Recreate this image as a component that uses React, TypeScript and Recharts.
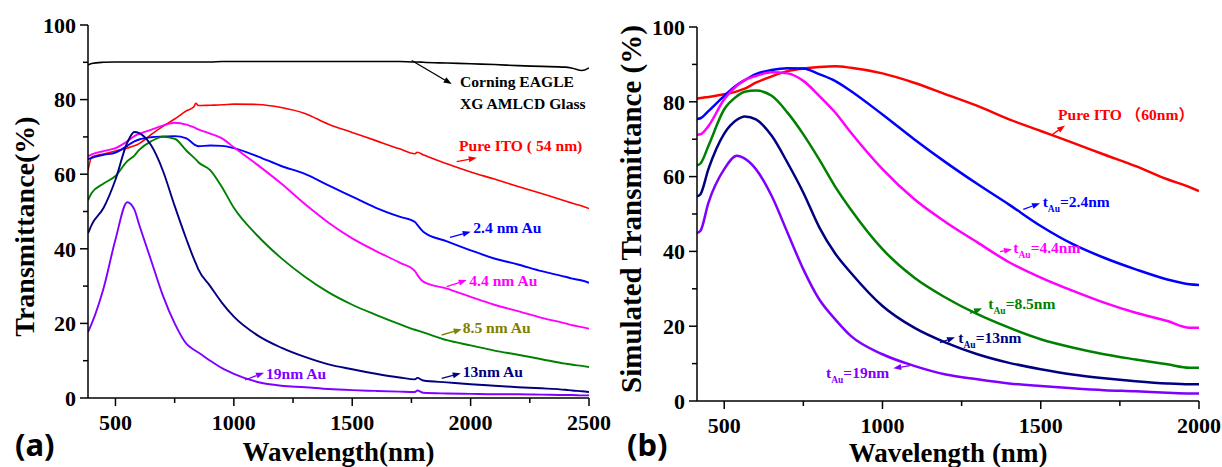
import React from 'react';
import { LineChart, Line, XAxis, YAxis } from 'recharts';

// ---------- Panel (a): measured transmittance ----------
const wavelengthA = [384, 400, 450, 500, 550, 580, 600, 650, 700, 750, 800, 830, 840, 850, 900, 950, 1000, 1100, 1200, 1300, 1400, 1500, 1600, 1700, 1765, 1775, 1800, 1900, 2000, 2100, 2200, 2300, 2400, 2430, 2470, 2500];
const glassA = [89.3, 89.7, 90.0, 90.1, 90.1, 90.1, 90.1, 90.1, 90.1, 90.1, 90.1, 90.1, 90.1, 90.1, 90.1, 90.2, 90.2, 90.2, 90.2, 90.2, 90.2, 90.2, 90.2, 90.2, 90.1, 90.1, 90.0, 89.8, 89.6, 89.4, 89.1, 88.9, 88.7, 88.4, 87.8, 88.5];
const ito54A = [61.0, 64.6, 65.4, 66.2, 67.0, 67.6, 68.2, 70.6, 72.8, 74.8, 77.0, 78.0, 79.0, 78.4, 78.5, 78.6, 78.8, 78.7, 77.9, 76.3, 73.4, 71.2, 69.0, 66.8, 65.5, 65.9, 65.2, 62.8, 60.6, 58.7, 56.7, 54.8, 52.8, 52.2, 51.5, 50.8];
const au24A = [64.0, 64.4, 65.2, 65.8, 67.6, 68.8, 69.3, 69.9, 70.1, 70.2, 69.6, 68.1, 67.7, 67.5, 67.7, 67.6, 67.0, 64.8, 62.2, 60.1, 57.0, 54.0, 51.0, 48.6, 47.2, 46.4, 44.6, 42.0, 39.6, 37.4, 35.8, 34.0, 32.5, 32.0, 31.5, 30.9];
const au44A = [64.8, 65.3, 66.2, 67.0, 68.8, 70.2, 70.8, 71.9, 73.0, 73.8, 73.3, 72.6, 72.3, 72.0, 70.9, 69.6, 67.2, 62.5, 57.5, 52.0, 47.0, 42.8, 39.4, 36.3, 34.0, 33.0, 31.2, 29.3, 27.1, 25.0, 23.3, 21.5, 20.0, 19.5, 19.0, 18.6];
const au85A = [53.0, 55.0, 57.5, 59.5, 63.5, 65.0, 66.5, 68.8, 70.0, 69.5, 66.3, 64.5, 63.9, 63.2, 61.1, 56.5, 51.0, 43.5, 37.5, 32.5, 28.3, 25.0, 22.3, 19.8, 18.3, 18.1, 17.6, 15.5, 14.1, 12.7, 11.6, 10.4, 9.2, 8.9, 8.6, 8.3];
const au13A = [44.1, 46.5, 51.0, 58.5, 68.5, 71.3, 71.0, 67.8, 61.0, 51.5, 42.5, 37.5, 36.0, 34.5, 30.0, 25.5, 21.8, 16.8, 13.5, 11.0, 9.0, 7.7, 6.5, 5.5, 5.0, 5.4, 4.7, 4.2, 3.7, 3.3, 2.9, 2.6, 2.2, 2.0, 1.8, 1.6];
const au19A = [17.7, 20.0, 29.5, 42.5, 52.5, 50.5, 46.5, 37.0, 27.5, 20.0, 14.5, 13.0, 12.6, 12.2, 10.0, 8.0, 6.5, 4.3, 3.3, 2.9, 2.4, 2.1, 1.9, 1.7, 1.6, 2.0, 1.4, 1.2, 1.1, 1.0, 1.0, 0.9, 0.8, 0.8, 0.7, 0.7];

// ---------- Panel (b): simulated transmittance ----------
const wavelengthB = [414, 425, 450, 500, 540, 565, 600, 650, 700, 750, 800, 850, 900, 1000, 1100, 1200, 1300, 1400, 1500, 1600, 1700, 1800, 1900, 1970, 2000];
const ito60B = [80.8, 81.0, 81.3, 82.0, 82.8, 83.5, 85.1, 86.8, 88.2, 88.9, 89.3, 89.5, 89.1, 87.6, 85.1, 82.0, 78.9, 75.3, 72.2, 69.1, 65.9, 62.8, 59.3, 57.2, 56.1];
const au24B = [75.4, 75.6, 77.5, 81.6, 84.5, 85.8, 87.4, 88.5, 89.0, 88.9, 87.4, 85.6, 82.9, 76.6, 70.0, 63.8, 58.0, 52.5, 46.8, 42.0, 38.3, 35.2, 32.5, 31.2, 31.0];
const au44B = [71.2, 71.3, 73.5, 80.7, 84.3, 85.8, 86.9, 87.9, 87.6, 85.6, 81.6, 77.2, 71.8, 62.0, 54.0, 47.8, 42.4, 37.1, 33.0, 29.5, 26.3, 23.6, 21.4, 19.6, 19.6];
const au85B = [63.0, 63.5, 68.2, 78.0, 81.5, 82.7, 83.0, 81.6, 77.1, 71.3, 64.6, 57.4, 51.2, 40.6, 33.0, 27.6, 23.2, 19.6, 16.5, 14.3, 12.5, 11.1, 9.8, 8.9, 8.9];
const au13B = [54.7, 55.3, 62.0, 71.5, 75.2, 76.1, 75.3, 70.9, 63.7, 55.7, 46.5, 39.5, 34.3, 25.4, 19.6, 15.6, 12.5, 10.2, 8.5, 7.1, 6.1, 5.3, 4.7, 4.5, 4.5];
const au19B = [44.9, 45.5, 53.0, 62.0, 65.6, 64.8, 62.0, 54.8, 45.0, 35.2, 27.2, 21.9, 17.4, 12.5, 9.4, 7.1, 5.8, 4.7, 4.0, 3.4, 2.9, 2.6, 2.2, 2.0, 2.0];

// ---------- Ticks ----------
const xMajorA = [500, 1000, 1500, 2000, 2500];
const xMinorA = [750, 1250, 1750, 2250];
const xMajorB = [500, 1000, 1500, 2000];
const xMinorB = [750, 1250, 1750];
const yMajor = [0, 20, 40, 60, 80, 100];
const yMinor = [10, 30, 50, 70, 90];

const dataA = wavelengthA.map((w, i) => ({
  w, glass: glassA[i], ito: ito54A[i], a24: au24A[i], a44: au44A[i], a85: au85A[i], a13: au13A[i], a19: au19A[i],
}));
const dataB = wavelengthB.map((w, i) => ({
  w, ito: ito60B[i], a24: au24B[i], a44: au44B[i], a85: au85B[i], a13: au13B[i], a19: au19B[i],
}));

const SERIF = '"Liberation Serif", "DejaVu Serif", "Times New Roman", serif';
const SANS = '"Noto Sans", "DejaVu Sans", sans-serif';
const CJK = '"Noto Sans CJK SC", sans-serif';
const TICK = 8;
const MINOR = 5;
const YGAP = 4;
const XGAP = 8;
const TICK_FONT = 22;

const C = {
  red: '#FF0000', blue: '#0000FF', magenta: '#FF00FF', green: '#008000', navy: '#000080', violet: '#8000FF', olive: '#808000',
};

const serifStyle = (size: number, color = '#000') => ({ fontFamily: SERIF, fontWeight: 700, fontSize: size, fill: color });

const makeYTick = (majors: number[]) => (props: any) => {
  const { x, y, payload } = props;
  const major = majors.includes(payload.value);
  const ax = x + TICK + YGAP;
  return (
    <g>
      <line x1={ax - (major ? TICK : MINOR)} x2={ax} y1={y} y2={y} stroke="#000" strokeWidth={1.5} />
      {major && (
        <text x={x} y={y} dy="0.35em" textAnchor="end" style={serifStyle(TICK_FONT)}>
          {payload.value}
        </text>
      )}
    </g>
  );
};

const makeXTick = (majors: number[]) => (props: any) => {
  const { x, y, payload } = props;
  const major = majors.includes(payload.value);
  const ay = y - TICK - XGAP;
  return (
    <g>
      <line x1={x} x2={x} y1={ay} y2={ay + (major ? TICK : MINOR)} stroke="#000" strokeWidth={1.5} />
      {major && (
        <text x={x} y={y} dy="0.71em" textAnchor="middle" style={serifStyle(TICK_FONT)}>
          {payload.value}
        </text>
      )}
    </g>
  );
};

function Arrow({ x1, y1, x2, y2, color }: { x1: number; y1: number; x2: number; y2: number; color: string }) {
  const dx = x2 - x1;
  const dy = y2 - y1;
  const L = Math.hypot(dx, dy);
  const ux = dx / L;
  const uy = dy / L;
  const hl = 8;
  const hw = 3;
  const bx = x2 - ux * hl;
  const by = y2 - uy * hl;
  const pts = `${x2},${y2} ${bx - uy * hw},${by + ux * hw} ${bx + uy * hw},${by - ux * hw}`;
  return (
    <g>
      <line x1={x1} y1={y1} x2={bx} y2={by} stroke={color} strokeWidth={1.3} />
      <polygon points={pts} fill={color} />
    </g>
  );
}

function TAu({ x, y, color, value }: { x: number; y: number; color: string; value: string }) {
  return (
    <text x={x} y={y} style={serifStyle(15.5, color)}>
      t
      <tspan style={{ fontSize: 9.5 }} dy={5}>Au</tspan>
      <tspan dy={-5}>{value}</tspan>
    </text>
  );
}

export default function App() {
  const axisStyle = { stroke: '#000', strokeWidth: 1.5 };
  const borderStyle = { stroke: '#222', strokeWidth: 1.5 };
  const lbl = (color: string) => serifStyle(15.6, color);
  return (
    <div style={{ position: 'absolute', left: 0, top: 0, width: 1222, height: 467, background: '#fff', overflow: 'hidden', fontFamily: SERIF }}>
      <div style={{ position: 'absolute', left: 0, top: 0 }}>
        <LineChart width={620} height={467} data={dataA} margin={{ top: 25, right: 31, bottom: 29, left: 0 }}>
          <XAxis dataKey="w" type="number" domain={[384, 2500]} allowDataOverflow ticks={[...xMajorA, ...xMinorA].sort((a, b) => a - b)} interval={0}
            height={40} tickSize={TICK} tickMargin={XGAP} tickLine={false} axisLine={axisStyle} tick={makeXTick(xMajorA)} />
          <XAxis xAxisId="top" orientation="top" dataKey="w" type="number" domain={[384, 2500]} height={0} tick={false} tickLine={false} axisLine={borderStyle} />
          <YAxis type="number" domain={[0, 100]} allowDataOverflow ticks={[...yMajor, ...yMinor].sort((a, b) => a - b)} interval={0}
            width={88} tickSize={TICK} tickMargin={YGAP} tickLine={false} axisLine={axisStyle} tick={makeYTick(yMajor)} />
          <YAxis yAxisId="right" orientation="right" type="number" domain={[0, 100]} width={0} tick={false} tickLine={false} axisLine={borderStyle} />
          <Line dataKey="glass" stroke="#000" strokeWidth={1.6} dot={false} type="monotone" isAnimationActive={false} />
          <Line dataKey="ito" stroke={C.red} strokeWidth={1.6} dot={false} type="monotone" isAnimationActive={false} />
          <Line dataKey="a24" stroke={C.blue} strokeWidth={1.9} dot={false} type="monotone" isAnimationActive={false} />
          <Line dataKey="a44" stroke={C.magenta} strokeWidth={1.9} dot={false} type="monotone" isAnimationActive={false} />
          <Line dataKey="a85" stroke={C.green} strokeWidth={1.9} dot={false} type="monotone" isAnimationActive={false} />
          <Line dataKey="a13" stroke={C.navy} strokeWidth={1.9} dot={false} type="monotone" isAnimationActive={false} />
          <Line dataKey="a19" stroke={C.violet} strokeWidth={1.9} dot={false} type="monotone" isAnimationActive={false} />
        </LineChart>
      </div>
      <div style={{ position: 'absolute', left: 600, top: 0 }}>
        <LineChart width={622} height={467} data={dataB} margin={{ top: 27, right: 23, bottom: 26, left: 0 }}>
          <XAxis dataKey="w" type="number" domain={[414, 2000]} allowDataOverflow ticks={[...xMajorB, ...xMinorB].sort((a, b) => a - b)} interval={0}
            height={40} tickSize={TICK} tickMargin={XGAP} tickLine={false} axisLine={axisStyle} tick={makeXTick(xMajorB)} />
          <XAxis xAxisId="top" orientation="top" dataKey="w" type="number" domain={[414, 2000]} height={0} tick={false} tickLine={false} axisLine={borderStyle} />
          <YAxis type="number" domain={[0, 100]} allowDataOverflow ticks={[...yMajor, ...yMinor].sort((a, b) => a - b)} interval={0}
            width={97} tickSize={TICK} tickMargin={YGAP} tickLine={false} axisLine={axisStyle} tick={makeYTick(yMajor)} />
          <YAxis yAxisId="right" orientation="right" type="number" domain={[0, 100]} width={0} tick={false} tickLine={false} axisLine={borderStyle} />
          <Line dataKey="ito" stroke={C.red} strokeWidth={2.5} dot={false} type="monotone" isAnimationActive={false} />
          <Line dataKey="a24" stroke={C.blue} strokeWidth={2.5} dot={false} type="monotone" isAnimationActive={false} />
          <Line dataKey="a44" stroke={C.magenta} strokeWidth={2.5} dot={false} type="monotone" isAnimationActive={false} />
          <Line dataKey="a85" stroke={C.green} strokeWidth={2.5} dot={false} type="monotone" isAnimationActive={false} />
          <Line dataKey="a13" stroke={C.navy} strokeWidth={2.5} dot={false} type="monotone" isAnimationActive={false} />
          <Line dataKey="a19" stroke={C.violet} strokeWidth={2.5} dot={false} type="monotone" isAnimationActive={false} />
        </LineChart>
      </div>
      <svg width={1222} height={467} style={{ position: 'absolute', left: 0, top: 0, pointerEvents: 'none' }}>
        {/* Panel (a) titles */}
        <text x={34} y={226.5} transform="rotate(-90, 34, 226.5)" textAnchor="middle" style={serifStyle(28)}>Transmittance(%)</text>
        <text x={338.5} y={461} textAnchor="middle" style={serifStyle(27)}>Wavelength(nm)</text>
        <text x={15} y={456} style={{ fontFamily: SANS, fontWeight: 700, fontSize: 31, fill: '#000' }}>(a)</text>
        {/* Panel (a) annotations */}
        <Arrow x1={411.7} y1={60.5} x2={451.7} y2={84} color="#000" />
        <text x={460} y={87} style={lbl('#000')}>Corning EAGLE</text>
        <text x={460} y={109} style={lbl('#000')}>XG AMLCD Glass</text>
        <Arrow x1={456.7} y1={161.7} x2={476.7} y2={157.7} color={C.red} />
        <text x={459} y={150.7} style={lbl(C.red)}>Pure ITO ( 54 nm)</text>
        <Arrow x1={450} y1={237.3} x2={470.7} y2={231.7} color={C.blue} />
        <text x={473.3} y={232.7} style={lbl(C.blue)}>2.4 nm Au</text>
        <Arrow x1={446.7} y1={286.7} x2={466.7} y2={280} color={C.magenta} />
        <text x={469.3} y={286} style={lbl(C.magenta)}>4.4 nm Au</text>
        <Arrow x1={441.7} y1={335} x2={461.7} y2={329.3} color={C.olive} />
        <text x={462.7} y={332.7} style={lbl(C.olive)}>8.5 nm Au</text>
        <Arrow x1={441.7} y1={378.3} x2={460.7} y2={373.3} color={C.navy} />
        <text x={462.7} y={376.7} style={lbl(C.navy)}>13nm Au</text>
        <Arrow x1={245} y1={380} x2={264} y2={372.7} color={C.violet} />
        <text x={266} y={379.3} style={lbl(C.violet)}>19nm Au</text>

        {/* Panel (b) titles */}
        <text x={641} y={209} transform="rotate(-90, 641, 209)" textAnchor="middle" style={serifStyle(29)}>Simulated Transmittance (%)</text>
        <text x={948} y={461.5} textAnchor="middle" style={serifStyle(27)}>Wavelength (nm)</text>
        <text x={627} y={456} style={{ fontFamily: SANS, fontWeight: 700, fontSize: 31, fill: '#000' }}>(b)</text>
        {/* Panel (b) annotations */}
        <Arrow x1={1051.7} y1={135} x2={1065} y2={125.5} color={C.red} />
        <text x={1058} y={120} style={lbl(C.red)}>Pure ITO<tspan style={{ fontFamily: CJK }}> （</tspan>60nm<tspan style={{ fontFamily: CJK }}>）</tspan></text>
        <Arrow x1={1023.3} y1={209.3} x2={1040} y2={203.3} color={C.blue} />
        <TAu x={1042.7} y={206.7} color={C.blue} value="=2.4nm" />
        <Arrow x1={1000} y1={251.7} x2={1012} y2={249.3} color={C.magenta} />
        <TAu x={1013.3} y={253.3} color={C.magenta} value="=4.4nm" />
        <Arrow x1={970} y1={313.3} x2={982} y2={308.3} color={C.green} />
        <TAu x={988.3} y={309.3} color={C.green} value="=8.5nm" />
        <Arrow x1={940} y1={342.7} x2={955} y2={337.3} color={C.navy} />
        <TAu x={958.3} y={343.3} color={C.navy} value="=13nm" />
        <Arrow x1={910} y1={365.7} x2={893.3} y2={368.3} color={C.violet} />
        <TAu x={826} y={378} color={C.violet} value="=19nm" />
      </svg>
    </div>
  );
}
